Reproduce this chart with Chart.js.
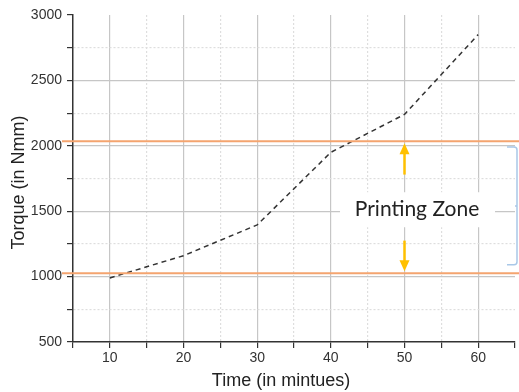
<!DOCTYPE html>
<html>
<head>
<meta charset="utf-8">
<script src="https://cdn.jsdelivr.net/npm/chart.js@4/dist/chart.umd.min.js"></script>
<style>
  html, body { margin: 0; padding: 0; background: #fff; }
  #wrap { width: 519px; height: 392px; position: relative; }
</style>
</head>
<body>
<div id="wrap"><canvas id="chart"></canvas></div>
<script>
// values
const times = [10, 20, 30, 40, 50, 60]
const torque = [990, 1160, 1395, 1950, 2240, 2850]
const xTickLabels = [10, 20, 30, 40, 50, 60]
const yTickLabels = [500, 1000, 1500, 2000, 2500, 3000]
const zoneLimits = [1025, 2035]       // orange lines
const zoneArrowEnds = [1275, 1780]    // where the yellow arrows start
const bracketRange = [1090, 1990]
const zoneLabel = 'Printing Zone'
const zoneLabelPos = [51.7, 1515]

const AXIS = '#333'
const MAJOR = '#c6c6c6'
const MINOR = '#dedede'

function isMajor(v, labels) { return labels.includes(v) }

// extra drawing: zone lines, arrows, label box, bracket, axis titles
const zonePlugin = {
    id: 'zone',
    afterDatasetsDraw(chart) {
        const {ctx, chartArea, scales: {x, y}} = chart
        ctx.save()

        // orange limits
        ctx.strokeStyle = '#f4a46f'
        ctx.lineWidth = 2
        zoneLimits.forEach(v => {
            const py = y.getPixelForValue(v)
            ctx.beginPath()
            ctx.moveTo(chartArea.left - 11, py)
            ctx.lineTo(chart.width, py)
            ctx.stroke()
        })

        // label box + text
        const lx = x.getPixelForValue(zoneLabelPos[0])
        const ly = y.getPixelForValue(zoneLabelPos[1])
        ctx.fillStyle = '#fff'
        ctx.fillRect(lx - 77, ly - 17, 155, 35)
        ctx.fillStyle = '#222'
        ctx.font = '21px Lato'
        ctx.textAlign = 'center'
        ctx.textBaseline = 'middle'
        ctx.fillText(zoneLabel, lx, ly)

        // arrows
        const ax = x.getPixelForValue(50)
        ctx.strokeStyle = '#ffc000'
        ctx.fillStyle = '#ffc000'
        ctx.lineWidth = 2.5
        const arrow = (from, to) => {
            const y0 = y.getPixelForValue(from), y1 = y.getPixelForValue(to)
            const dir = y1 < y0 ? 1 : -1
            ctx.beginPath()
            ctx.moveTo(ax, y0)
            ctx.lineTo(ax, y1 + dir * 10)
            ctx.stroke()
            ctx.beginPath()
            ctx.moveTo(ax, y1 + dir * 2)
            ctx.lineTo(ax - 5, y1 + dir * 13)
            ctx.lineTo(ax + 5, y1 + dir * 13)
            ctx.closePath()
            ctx.fill()
        }
        arrow(zoneArrowEnds[1], zoneLimits[1])
        arrow(zoneArrowEnds[0], zoneLimits[0])

        // right bracket
        const bx = chartArea.right + 2
        const bt = y.getPixelForValue(bracketRange[1])
        const bb = y.getPixelForValue(bracketRange[0])
        const bm = (bt + bb) / 2
        ctx.strokeStyle = '#a9c8e8'
        ctx.lineWidth = 1.5
        ctx.beginPath()
        ctx.moveTo(bx - 10, bt)
        ctx.lineTo(bx - 3, bt)
        ctx.quadraticCurveTo(bx, bt, bx, bt + 3)
        ctx.lineTo(bx, bb - 3)
        ctx.quadraticCurveTo(bx, bb, bx - 3, bb)
        ctx.lineTo(bx - 10, bb)
        ctx.moveTo(bx, bm)
        ctx.lineTo(bx - 2, bm)
        ctx.stroke()

        // axis titles
        ctx.fillStyle = '#222'
        ctx.font = '18px "Liberation Sans", Arial, sans-serif'
        ctx.textAlign = 'center'
        ctx.textBaseline = 'middle'
        ctx.fillText('Time (in mintues)', 281, chart.height - 11)
        ctx.translate(19, (chartArea.top + chartArea.bottom) / 2 + 4)
        ctx.rotate(-Math.PI / 2)
        ctx.fillText('Torque (in Nmm)', 0, 0)
        ctx.restore()
    }
}

const config = {
    type: 'line',
    data: {
        datasets: [{
            label: 'Torque',
            data: times.map((t, i) => ({x: t, y: torque[i]})),
            borderColor: '#333',
            borderWidth: 1.5,
            borderDash: [5, 4],
            pointRadius: 0,
            tension: 0,
            fill: false
        }]
    },
    options: {
        responsive: false,
        animation: false,
        layout: {padding: {top: 15, right: 4, left: 0, bottom: 0}},
        plugins: {legend: {display: false}, tooltip: {enabled: false}},
        scales: {
            x: {
                type: 'linear',
                min: 5,
                max: 65,
                afterFit: s => { s.height = 50 },
                ticks: {
                    stepSize: 5,
                    autoSkip: false,
                    maxRotation: 0,
                    padding: 2,
                    color: '#333',
                    font: {size: 14, family: '"Liberation Sans", Arial, sans-serif'},
                    callback: v => isMajor(v, xTickLabels) ? String(v) : ''
                },
                grid: {
                    color: c => {
                        const v = c.tick && c.tick.value
                        if (v === 5 || v === 65) return 'rgba(0,0,0,0)'
                        return isMajor(v, xTickLabels) ? MAJOR : MINOR
                    },
                    lineWidth: 1.2,
                    tickColor: AXIS,
                    tickLength: 6,
                    tickWidth: 1.2
                },
                border: {
                    color: AXIS,
                    width: 1.5,
                    dash: c => (c.tick && !isMajor(c.tick.value, xTickLabels)) ? [2, 2] : []
                }
            },
            y: {
                min: 500,
                max: 3000,
                afterFit: s => { s.width = 73 },
                ticks: {
                    stepSize: 250,
                    autoSkip: false,
                    padding: 5,
                    color: '#333',
                    font: {size: 14, family: '"Liberation Sans", Arial, sans-serif'},
                    callback: v => isMajor(v, yTickLabels) ? String(v) : ''
                },
                grid: {
                    color: c => {
                        const v = c.tick && c.tick.value
                        if (v === 500 || v === 3000) return 'rgba(0,0,0,0)'
                        return isMajor(v, yTickLabels) ? MAJOR : MINOR
                    },
                    lineWidth: 1.2,
                    tickColor: AXIS,
                    tickLength: 6,
                    tickWidth: 1.2
                },
                border: {
                    color: AXIS,
                    width: 1.5,
                    dash: c => (c.tick && !isMajor(c.tick.value, yTickLabels)) ? [2, 2] : []
                }
            }
        }
    },
    plugins: [zonePlugin]
}

const canvas = document.getElementById('chart')
canvas.width = 519
canvas.height = 392
const myChart = new Chart(canvas, config)
</script>
</body>
</html>
